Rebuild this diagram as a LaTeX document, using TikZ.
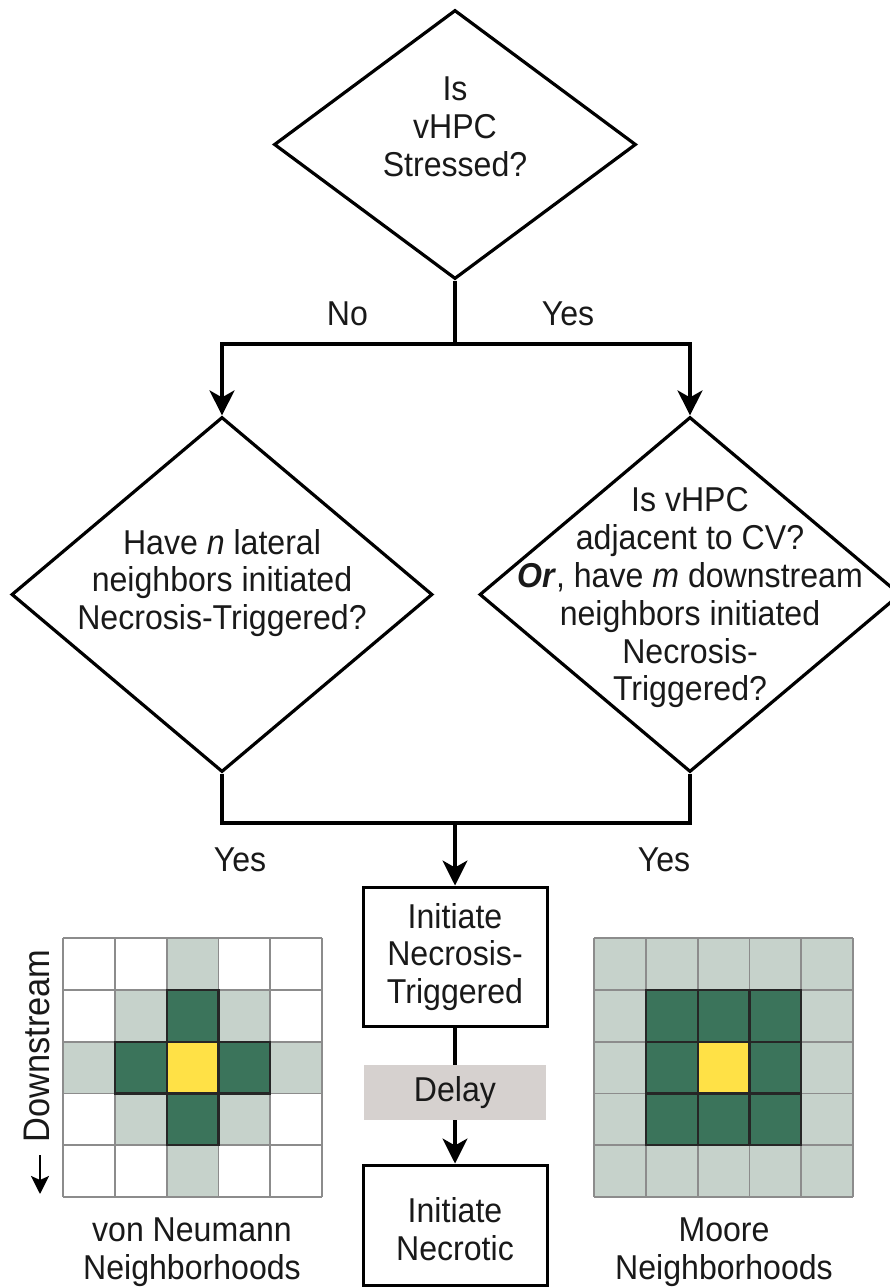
\documentclass[tikz,border=0pt]{standalone}
\usepackage{fontspec}
\setmainfont{Liberation Sans}[FakeStretch=0.93]
\usetikzlibrary{shapes.geometric,arrows.meta}
\definecolor{cellD}{HTML}{3B745B}
\definecolor{cellL}{HTML}{C6D2CB}
\definecolor{cellY}{HTML}{FFE146}
\definecolor{gridgrey}{HTML}{8C8C8C}
\definecolor{gridedge}{HTML}{262626}
\definecolor{delaygrey}{HTML}{D6D1CF}
\begin{document}
\begin{tikzpicture}[x=1pt,y=-1pt,
  txt/.style={font=\fontsize{34.5}{37.8}\selectfont,align=center,inner sep=0pt,text=black!90},
  dia/.style={diamond,draw,line width=3.2pt,inner sep=0pt,aspect=1},
  boxnode/.style={rectangle,draw,line width=3pt,inner sep=0pt,minimum width=184pt},
  conn/.style={line width=3.2pt},
  arr/.style={conn,-{Stealth[length=25pt,width=25pt,inset=7pt]}},
  gline/.style={gridgrey,line width=1.8pt},
  dline/.style={gridedge,line width=2.2pt}]
\useasboundingbox (0,0) rectangle (890,1287);
\clip (0,0) rectangle (890,1287);

% diamonds
\node[dia,minimum width=362pt,minimum height=269pt] (top) at (455,144.5) {};
\node[txt] (toptxt) at (455,127) {Is\\vHPC\\Stressed?};

\node[dia,minimum width=421pt,minimum height=355pt] (ld) at (222,594.5) {};
\node[txt] (ldtxt) at (222,583) {Have \textit{n} lateral\\neighbors initiated\\Necrosis-Triggered?};

\node[dia,minimum width=421pt,minimum height=355pt] (rd) at (690,594.5) {};
\node[txt] (rdtxt) at (690,598) {Is vHPC\\adjacent to CV?\\\textbf{\textit{Or}}, have \textit{m} downstream\\neighbors initiated\\Necrosis-\\Triggered?};

% boxes
\node[boxnode,minimum height=139pt] (b1) at (455,956.5) {};
\node[txt] (b1txt) at (455,957) {Initiate\\Necrosis-\\Triggered};
\node[rectangle,fill=delaygrey,inner sep=0pt,minimum width=182pt,minimum height=55pt] (delay) at (455,1092.5) {};
\node[txt] (delaytxt) at (455,1093) {Delay};
\node[boxnode,minimum height=120pt] (b2) at (455,1225) {};
\node[txt] (b2txt) at (455,1229) {Initiate\\Necrotic};

% connectors
\coordinate (split) at (455,344);
\coordinate (join) at (455,823);
\draw[conn] (top.south) -- (split);
\draw[arr] (split) -| (ld.north);
\draw[arr] (split) -| (rd.north);
\draw[conn] (ld.south) |- (join);
\draw[conn] (rd.south) |- (join);
\draw[arr] (join) -- (b1.north);
\draw[conn] (b1.south) -- (delay.north);
\draw[arr] (delay.south) -- (b2.north);

% branch labels
\node[txt] (no) at (347.5,314) {No};
\node[txt] (yes1) at (568,314) {Yes};
\node[txt] (yes2) at (240,860) {Yes};
\node[txt] (yes3) at (664,860) {Yes};

% von Neumann grid
\foreach \i in {0,...,4}{\foreach \j in {0,...,4}{
  \pgfmathtruncatemacro{\dd}{abs(\i-2)+abs(\j-2)}
  \ifcase\dd \def\cc{cellY}\or \def\cc{cellD}\or \def\cc{cellL}\else \def\cc{white}\fi
  \fill[\cc] (63+\i*51.8,938+\j*51.8) rectangle ++(51.8,51.8);
}}
\foreach \k in {0,...,5}{
  \draw[gline] (63+\k*51.8,938) -- (63+\k*51.8,1197);
  \draw[gline] (63,938+\k*51.8) -- (322,938+\k*51.8);
}
\foreach \i in {0,...,4}{\foreach \j in {0,...,4}{
  \pgfmathtruncatemacro{\dd}{abs(\i-2)+abs(\j-2)}
  \ifnum\dd<2 \draw[dline] (63+\i*51.8,938+\j*51.8) rectangle ++(51.8,51.8);\fi
}}

% Moore grid
\foreach \i in {0,...,4}{\foreach \j in {0,...,4}{
  \pgfmathtruncatemacro{\dd}{max(abs(\i-2),abs(\j-2))}
  \ifcase\dd \def\cc{cellY}\or \def\cc{cellD}\or \def\cc{cellL}\else \def\cc{white}\fi
  \fill[\cc] (594+\i*51.8,938+\j*51.8) rectangle ++(51.8,51.8);
}}
\foreach \k in {0,...,5}{
  \draw[gline] (594+\k*51.8,938) -- (594+\k*51.8,1197);
  \draw[gline] (594,938+\k*51.8) -- (853,938+\k*51.8);
}
\foreach \i in {0,...,4}{\foreach \j in {0,...,4}{
  \pgfmathtruncatemacro{\dd}{max(abs(\i-2),abs(\j-2))}
  \ifnum\dd<2 \draw[dline] (594+\i*51.8,938+\j*51.8) rectangle ++(51.8,51.8);\fi
}}

% grid labels
\node[txt] (vnlab) at (192,1252) {von Neumann\\Neighborhoods};
\node[txt] (moorelab) at (724,1252) {Moore\\Neighborhoods};

% downstream label
\node[txt,rotate=90,font=\fontsize{37}{40}\selectfont] (down) at (37,1046) {Downstream};
\coordinate (dsA) at (40,1155);
\coordinate (dsB) at (40,1194);
\draw[line width=2.8pt,-{Stealth[length=18pt,width=18pt,inset=4pt]}] (dsA) -- (dsB);
\end{tikzpicture}
\end{document}
